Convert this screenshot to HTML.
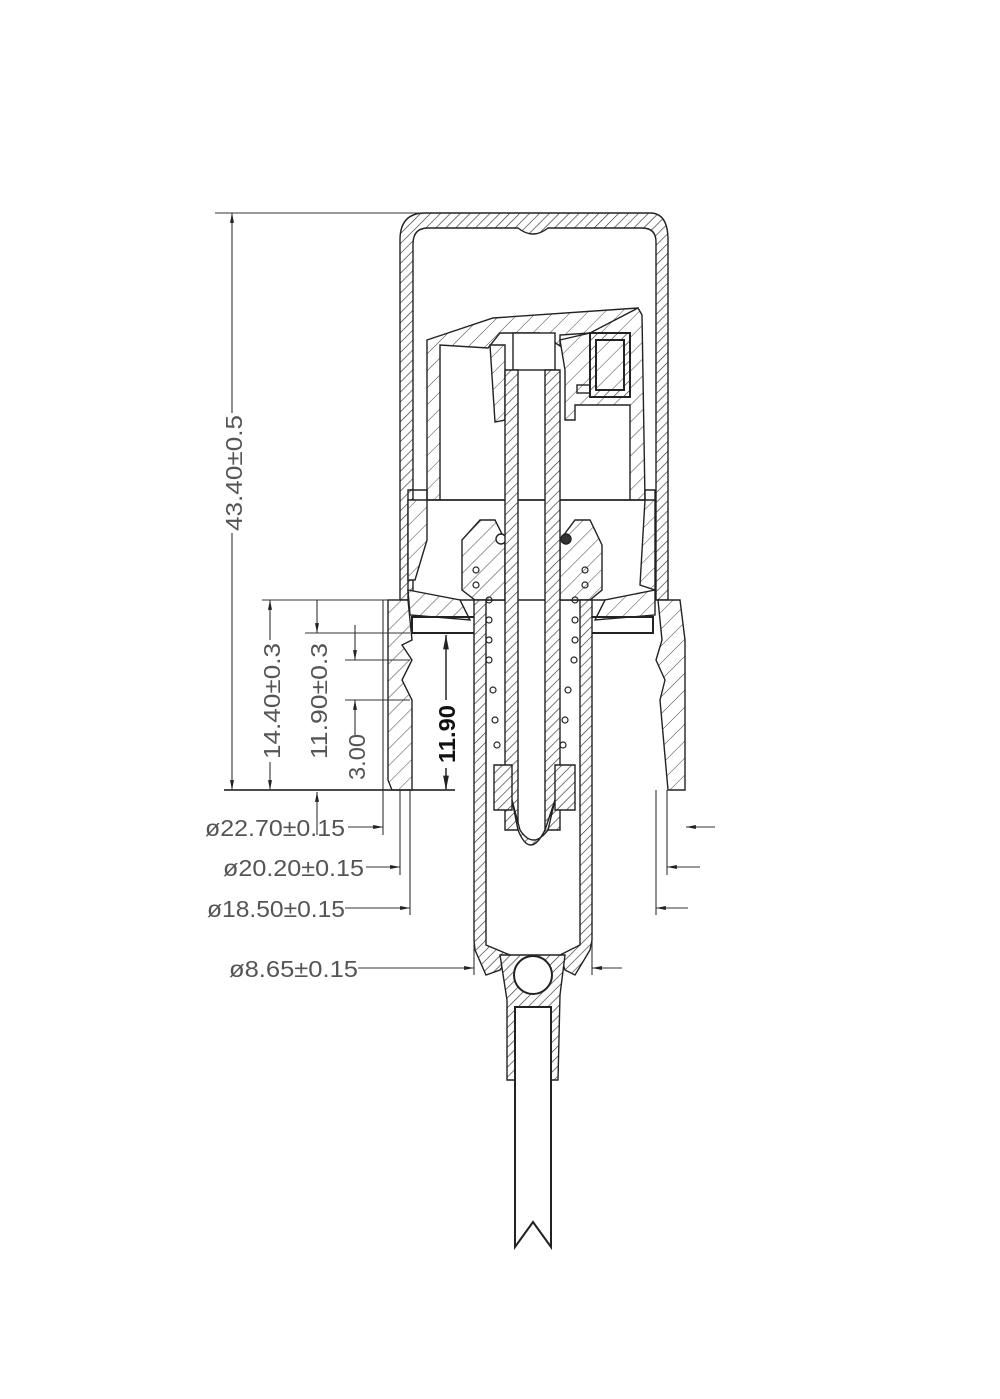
<!DOCTYPE html>
<html><head><meta charset="utf-8"><style>
html,body{margin:0;padding:0;background:#fff;}
svg{display:block;}
text{font-family:"Liberation Sans",sans-serif;fill:#555;}
</style></head><body>
<svg width="1000" height="1399" viewBox="0 0 1000 1399" xmlns="http://www.w3.org/2000/svg">
<defs>
<pattern id="h" width="7" height="7" patternUnits="userSpaceOnUse" patternTransform="rotate(45)">
<rect width="7" height="7" fill="#fff"/><line x1="0" y1="0" x2="0" y2="7" stroke="#333" stroke-width="1.3"/>
</pattern>
<pattern id="h2" width="12" height="12" patternUnits="userSpaceOnUse" patternTransform="rotate(45)">
<rect width="12" height="12" fill="#fff"/><line x1="0" y1="0" x2="0" y2="12" stroke="#444" stroke-width="1"/>
</pattern>
<marker id="a" viewBox="0 0 10 10" refX="10" refY="5" markerWidth="9" markerHeight="9" orient="auto-start-reverse"><path d="M0,3 L10,5 L0,7z" fill="#222"/></marker>
</defs>
<g stroke="#222" stroke-width="1.4" fill="none">
<path d="M400,600 L400,240 Q400,213 425,213 L650,213 Q668,213 668,240 L668,600 L656,600 L656,242 Q656,228 642,228 L548,228 Q533,240 518,228 L428,228 Q413,228 413,244 L413,600 Z" fill="url(#h)"/>
<path d="M427,340 L493,318 L638,308 L640,333 L590,333 L560,335 L560,346 L540,333 L500,333 L488,348 L440,345 L440,500 L427,500 Z" fill="url(#h2)"/>
<path d="M638,308 L642,315 L645,500 L630,500 L630,405 L575,405 L575,420 L565,420 L565,370 L560,340 L590,333 Z" fill="url(#h2)"/>
<path d="M490,345 L505,345 L505,420 L495,422 Z" fill="url(#h2)"/>
<rect x="513" y="333" width="42" height="37" fill="#fff"/>
<path d="M590,333 L630,333 L630,397 L590,397 Z M596,340 L596,390 L624,390 L624,340 Z" fill="url(#h)" stroke-width="2"/>
<rect x="577" y="385" width="13" height="8"/>
<line x1="440" y1="500" x2="630" y2="500"/>
<path d="M408,490 L427,490 L427,500 L645,500 L645,490 L655,490 L655,600 L408,600 Z" fill="none"/>
<path d="M408,500 L427,500 L427,540 L415,580 L408,580 Z" fill="url(#h2)"/>
<path d="M645,500 L655,500 L655,590 L640,585 Z" fill="url(#h2)"/>
<path d="M408,590 L460,600 L470,620 L410,615 Z" fill="url(#h2)"/>
<path d="M655,590 L605,600 L595,620 L655,615 Z" fill="url(#h2)"/>
<rect x="412" y="617" width="63" height="16" stroke-width="2"/>
<rect x="590" y="617" width="63" height="16" stroke-width="2"/>
<path d="M388,600 L408,600 L412,640 L402,645 L412,660 L402,680 L412,700 L412,790 L392,790 L388,780 Z" fill="url(#h2)"/>
<path d="M658,600 L680,600 L685,640 L685,790 L668,790 L660,700 L665,680 L656,660 L662,640 Z" fill="url(#h2)"/>
<path d="M462,540 L480,520 L495,520 L505,540 L505,600 L475,600 L462,590 Z" fill="url(#h2)"/>
<path d="M560,540 L575,520 L590,520 L602,545 L602,590 L590,600 L560,600 Z" fill="url(#h2)"/>
<circle cx="501" cy="539" r="5" fill="#fff"/>
<circle cx="566" cy="539" r="5" fill="#333"/>
<path d="M505,370 L518,370 L518,830 L505,830 Z" fill="url(#h)"/>
<path d="M545,370 L560,370 L560,830 L545,830 Z" fill="url(#h)"/>
<path d="M474,600 L486,600 L486,820 L486,945 L510,955 L500,970 L486,975 L475,950 L474,940 Z" fill="url(#h)"/>
<path d="M580,600 L592,600 L592,940 L590,950 L575,975 L565,970 L560,955 L580,945 L580,600 Z" fill="url(#h)"/>
<path d="M494,765 L512,765 L512,810 L494,810 Z M555,765 L575,765 L575,810 L555,810 Z" fill="url(#h)"/>
<path d="M512,800 L518,830 Q530,860 545,830 L555,800 L548,830 Q533,850 520,830 Z" fill="url(#h)"/>
<g stroke-width="1.2">
<circle cx="489" cy="600" r="3"/><circle cx="489" cy="620" r="3"/><circle cx="489" cy="640" r="3"/><circle cx="489" cy="660" r="3"/><circle cx="493" cy="690" r="3"/><circle cx="495" cy="720" r="3"/><circle cx="497" cy="745" r="3"/>
<circle cx="575" cy="600" r="3"/><circle cx="575" cy="620" r="3"/><circle cx="575" cy="640" r="3"/><circle cx="574" cy="660" r="3"/><circle cx="568" cy="690" r="3"/><circle cx="565" cy="720" r="3"/><circle cx="563" cy="745" r="3"/>
<circle cx="476" cy="570" r="3"/><circle cx="476" cy="585" r="3"/><circle cx="585" cy="570" r="3"/><circle cx="585" cy="585" r="3"/>
</g>
<path d="M500,955 L565,955 L560,995 L558,1080 L548,1080 L548,1007 L520,1007 L520,1080 L507,1080 L507,1000 Z" fill="url(#h)"/>
<circle cx="533" cy="975" r="19" fill="#fff" stroke-width="2"/>
<path d="M515,1007 L551,1007 L551,1247 L533,1222 L515,1247 Z" fill="#fff" stroke-width="2"/>
</g>
<g stroke="#333" stroke-width="1.1" fill="none">
<line x1="215" y1="213" x2="420" y2="213"/>
<line x1="232" y1="213" x2="232" y2="413" marker-start="url(#a)"/>
<line x1="232" y1="533" x2="232" y2="790" marker-end="url(#a)"/>
<line x1="262" y1="600" x2="400" y2="600"/>
<line x1="270" y1="600" x2="270" y2="640" marker-start="url(#a)"/>
<line x1="270" y1="762" x2="270" y2="790" marker-end="url(#a)"/>
<line x1="224" y1="790" x2="455" y2="790" stroke-width="1.8"/>
<line x1="317" y1="600" x2="317" y2="633" marker-end="url(#a)"/>
<line x1="317" y1="835" x2="317" y2="792" marker-end="url(#a)"/>
<line x1="305" y1="633" x2="410" y2="633"/>
<line x1="355" y1="625" x2="355" y2="660" marker-end="url(#a)"/>
<line x1="345" y1="660" x2="410" y2="660"/>
<line x1="345" y1="700" x2="410" y2="700"/>
<line x1="355" y1="735" x2="355" y2="700" marker-end="url(#a)"/>
<line x1="446" y1="700" x2="446" y2="635" marker-end="url(#a)" stroke-width="1.6"/>
<line x1="446" y1="768" x2="446" y2="790" marker-end="url(#a)" stroke-width="1.6"/>
<line x1="348" y1="827" x2="383" y2="827" marker-end="url(#a)"/>
<line x1="383" y1="600" x2="383" y2="835"/>
<line x1="715" y1="827" x2="686" y2="827" marker-end="url(#a)"/>
<line x1="366" y1="867" x2="400" y2="867" marker-end="url(#a)"/>
<line x1="400" y1="790" x2="400" y2="875"/>
<line x1="700" y1="867" x2="667" y2="867" marker-end="url(#a)"/>
<line x1="667" y1="790" x2="667" y2="875"/>
<line x1="345" y1="908" x2="410" y2="908" marker-end="url(#a)"/>
<line x1="410" y1="790" x2="410" y2="915"/>
<line x1="688" y1="908" x2="656" y2="908" marker-end="url(#a)"/>
<line x1="656" y1="790" x2="656" y2="915"/>
<line x1="358" y1="968" x2="474" y2="968" marker-end="url(#a)"/>
<line x1="474" y1="940" x2="474" y2="975"/>
<line x1="622" y1="968" x2="592" y2="968" marker-end="url(#a)"/>
<line x1="592" y1="940" x2="592" y2="975"/>
</g>
<g font-size="23">
<text transform="translate(242,473) rotate(-90)" text-anchor="middle" textLength="116" lengthAdjust="spacingAndGlyphs">43.40±0.5</text>
<text transform="translate(280,701) rotate(-90)" text-anchor="middle" textLength="116" lengthAdjust="spacingAndGlyphs">14.40±0.3</text>
<text transform="translate(327,701) rotate(-90)" text-anchor="middle" textLength="116" lengthAdjust="spacingAndGlyphs">11.90±0.3</text>
<text transform="translate(365,757) rotate(-90)" text-anchor="middle" textLength="46" lengthAdjust="spacingAndGlyphs">3.00</text>
<text transform="translate(455,734) rotate(-90)" text-anchor="middle" textLength="58" lengthAdjust="spacingAndGlyphs" style="fill:#111;font-weight:bold">11.90</text>
<text x="205" y="836" textLength="140" lengthAdjust="spacingAndGlyphs">ø22.70±0.15</text>
<text x="223" y="876" textLength="141" lengthAdjust="spacingAndGlyphs">ø20.20±0.15</text>
<text x="207" y="917" textLength="138" lengthAdjust="spacingAndGlyphs">ø18.50±0.15</text>
<text x="229" y="977" textLength="129" lengthAdjust="spacingAndGlyphs">ø8.65±0.15</text>
</g>
</svg>
</body></html>
